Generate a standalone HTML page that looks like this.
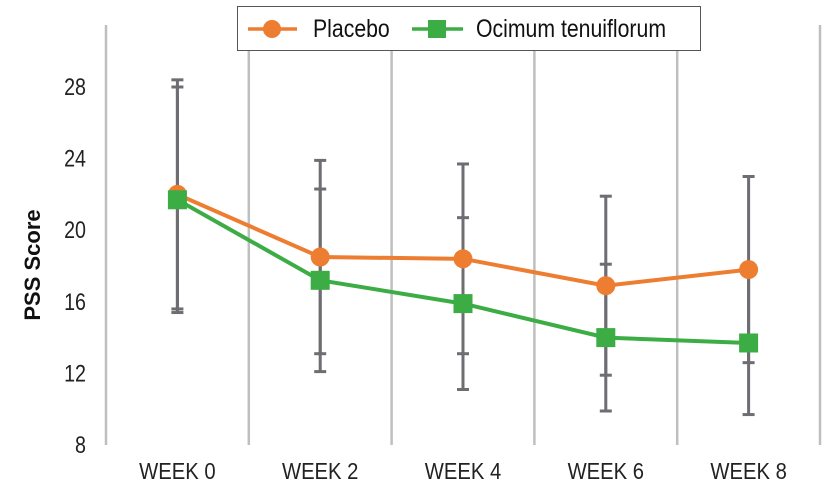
<!DOCTYPE html>
<html><head><meta charset="utf-8"><style>
body{margin:0;background:#fff}
svg{display:block;font-family:"Liberation Sans",Arial,sans-serif}
</style></head><body>
<svg id="c" width="827" height="496"></svg>
<script>
const categories=["WEEK 0","WEEK 2","WEEK 4","WEEK 6","WEEK 8"];
const yTicks=[8,12,16,20,24,28];
const placebo=[22.0,18.5,18.4,16.9,17.8];
const placeboErr=[6.4,5.4,5.3,5.0,5.2];
const ocimum=[21.7,17.2,15.9,14.0,13.7];
const ocimumErr=[6.3,5.1,4.8,4.1,4.0];

const NS="http://www.w3.org/2000/svg";
const svg=document.getElementById('c');
const x0=106,x1=820,yTop=25,yBot=445;
const band=(x1-x0)/categories.length;
const X=i=>x0+band*(i+0.5);
const Y=v=>yBot-(v-8)*17.9;
function mk(t,a,p){const e=document.createElementNS(NS,t);for(const k in a)e.setAttribute(k,a[k]);(p||svg).appendChild(e);return e;}

for(let i=0;i<=categories.length;i++){
  const g=mk('line',{x1:x0+band*i,x2:x0+band*i,y1:yTop,y2:yBot,stroke:'#bfbfbf','stroke-width':2.5});
  
  
}
yTicks.forEach(v=>{
  const t=mk('text',{x:0,y:0,'text-anchor':'end','font-size':24,fill:'#222',transform:'translate(86,'+(Y(v)+8)+') scale(0.82,1)'});
  t.textContent=v;
  
  
});
categories.forEach((c,i)=>{
  const t=mk('text',{x:0,y:0,'text-anchor':'middle','font-size':23,fill:'#222',transform:'translate('+X(i)+',479) scale(0.88,1)'});
  t.textContent=c;
  
  
});
const yt=mk('text',{x:0,y:0,'text-anchor':'middle','font-size':22,'font-weight':'bold',fill:'#111',transform:'translate(40,265) rotate(-90)'});
yt.textContent='PSS Score';



function errs(vals,er,name){
  vals.forEach((v,i)=>{
    const g=mk('g',{stroke:'#6d6d72','stroke-width':3});
    
    
    const x=X(i),a=Y(v+er[i]),b=Y(v-er[i]);
    mk('line',{x1:x,x2:x,y1:a,y2:b},g);
    mk('line',{x1:x-6,x2:x+6,y1:a,y2:a},g);
    mk('line',{x1:x-6,x2:x+6,y1:b,y2:b},g);
  });
}
errs(placebo,placeboErr,'placebo');
errs(ocimum,ocimumErr,'ocimum');

const pl=mk('polyline',{points:placebo.map((v,i)=>X(i)+','+Y(v)).join(' '),fill:'none',stroke:'#ed7d31','stroke-width':4});


const ol=mk('polyline',{points:ocimum.map((v,i)=>X(i)+','+Y(v)).join(' '),fill:'none',stroke:'#3cad44','stroke-width':4});


placebo.forEach((v,i)=>{
  const c=mk('circle',{cx:X(i),cy:Y(v),r:9.5,fill:'#ed7d31'});
  
  
});
ocimum.forEach((v,i)=>{
  const r=mk('rect',{x:X(i)-9.5,y:Y(v)-9.5,width:19,height:19,fill:'#3cad44'});
  
  
});

const lg=mk('g',{});


mk('rect',{x:237.5,y:6.5,width:463,height:44,fill:'#fff',stroke:'#555','stroke-width':1},lg);
const e1=mk('g',{},lg);


mk('line',{x1:248,x2:297,y1:29,y2:29,stroke:'#ed7d31','stroke-width':3.5},e1);
mk('circle',{cx:272,cy:29,r:9,fill:'#ed7d31'},e1);
const t1=mk('text',{x:0,y:0,'font-size':25,fill:'#111',transform:'translate(313,37) scale(0.85,1)'},e1);t1.textContent='Placebo';
const e2=mk('g',{},lg);


mk('line',{x1:412,x2:463,y1:29,y2:29,stroke:'#3cad44','stroke-width':3.5},e2);
mk('rect',{x:428,y:20,width:18,height:18,fill:'#3cad44'},e2);
const t2=mk('text',{x:0,y:0,'font-size':25,fill:'#111',transform:'translate(476,37) scale(0.85,1)'},e2);t2.textContent='Ocimum tenuiflorum';
</script>
</body></html>
